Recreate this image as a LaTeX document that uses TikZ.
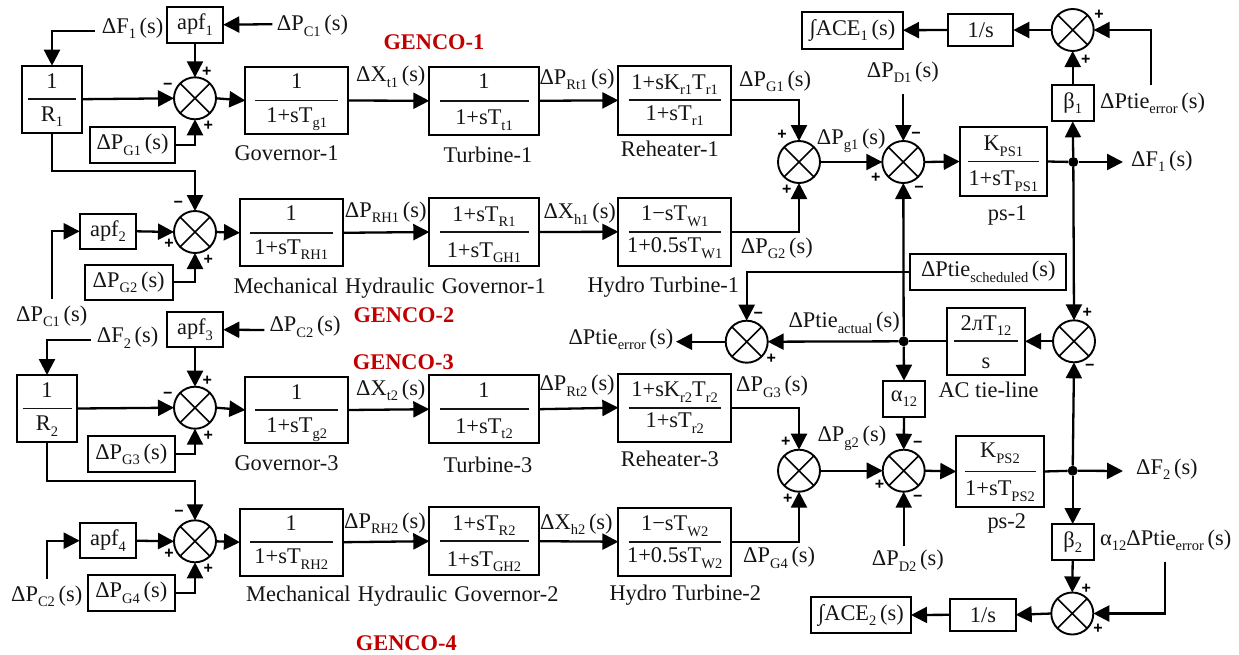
\documentclass[tikz,border=0pt]{standalone}
\usepackage{fontspec}
\setmainfont{Liberation Serif}
\newfontfamily\sgnfont{Liberation Sans}
\usetikzlibrary{arrows.meta}
\definecolor{gencored}{HTML}{C00000}
\newcommand{\sub}[1]{\raisebox{-5.5pt}{\fontsize{14.5}{14.5}\selectfont #1}}
\newcommand{\fr}[5]{\makebox[0pt]{\smash{\raisebox{#4pt}{#2}}}\makebox[0pt]{\smash{\raisebox{-0.9pt}{\rule{#1pt}{1.8pt}}}}\makebox[0pt]{\smash{\raisebox{-#5pt}{#3}}}}
\tikzset{
  every node/.style={font=\fontsize{22.4}{24}\selectfont,text=black!92},
  box/.style 2 args={draw=black,line width=1.9pt,rectangle,inner sep=0pt,outer sep=0pt,minimum width=#1pt,minimum height=#2pt},
  sumj/.style={draw=black,line width=1.9pt,circle,inner sep=0pt,outer sep=0pt,minimum size=42pt,
    path picture={\draw[line width=1.6pt] (path picture bounding box.north west)--(path picture bounding box.south east)
      (path picture bounding box.north east)--(path picture bounding box.south west);}},
  lab/.style={inner sep=0pt,anchor=base west},
  genco/.style={inner sep=0pt,anchor=base west,font=\fontsize{22.4}{24}\selectfont\bfseries,text=gencored},
  sgn/.style={inner sep=0pt,font=\fontsize{16}{16}\sgnfont\bfseries,text=black},
  dot/.style={circle,fill=black,inner sep=0pt,minimum size=10pt},
  wire/.style={draw=black,line width=2.3pt},
  arr/.style={wire,-{Triangle[length=16pt,width=16pt]}}
}
\begin{document}
\begin{tikzpicture}[x=1pt,y=-1pt]
\useasboundingbox (0,0) rectangle (1239,654);
% blocks
\node[box={60.6}{67}] (R1) at (52,99.2) {\fr{49}{1}{R\sub{1}}{10.7}{22}};
\node[box={56.6}{36}] (apf1) at (195,24.7) {apf\sub{1}};
\node[box={85}{36.6}] (PG1b) at (132.5,145) {ΔP\sub{G1}\,(s)};
\node[box={102.7}{67}] (G1) at (296.7,100.5) {\fr{83}{1}{1+sT\sub{g1}}{12}{21.5}};
\node[box={56.6}{35.3}] (apf2) at (108,231.3) {apf\sub{2}};
\node[box={88}{35.3}] (PG2b) at (128.7,282.3) {ΔP\sub{G2}\,(s)};
\node[box={102.7}{67}] (RH1) at (291.3,232.8) {\fr{83}{1}{1+sT\sub{RH1}}{12}{21.5}};
\node[box={109.4}{68.3}] (T1) at (484,100.8) {\fr{89}{1}{1+sT\sub{t1}}{12}{24}};
\node[box={112.7}{68.7}] (Re1) at (674.7,100.3) {\fr{92}{1+sK\sub{r1}T\sub{r1}}{1+sT\sub{r1}}{11}{20}};
\node[box={109.4}{68.6}] (GH1) at (484,232) {\fr{89}{1+sT\sub{R1}}{1+sT\sub{GH1}}{11}{25}};
\node[box={112.7}{68.3}] (W1) at (674.7,231.8) {\fr{92}{1−sT\sub{W1}}{1+0.5sT\sub{W1}}{11}{21}};
\node[box={101}{37}] (ACE1) at (852.5,30.2) {∫ACE\sub{1}\,(s)};
\node[box={65}{32}] (is1) at (980.8,30) {1/s};
\node[box={42}{36.3}] (b1) at (1072.7,103.2) {β\sub{1}};
\node[box={87.3}{69}] (K1) at (1003.3,161.5) {\fr{71}{K\sub{PS1}}{1+sT\sub{PS1}}{10.7}{24.3}};
\node[box={156}{36}] (sched) at (988.3,272) {ΔPtie\sub{scheduled}\,(s)};
\node[box={78}{66.7}] (Tie) at (986,341.3) {\fr{64}{2лT\sub{12}}{s}{11}{27}};
\node[box={42}{36}] (a12) at (904,398.7) {α\sub{12}};
\node[box={87.4}{71}] (K2) at (1000,471.5) {\fr{71}{K\sub{PS2}}{1+sT\sub{PS2}}{14}{24}};
\node[box={42}{36}] (b2) at (1072.7,542) {β\sub{2}};
\node[box={65.4}{32.3}] (is2) at (983,614.8) {1/s};
\node[box={100}{35.4}] (ACE2) at (861,615) {∫ACE\sub{2}\,(s)};
\node[box={56.6}{35.3}] (apf3) at (195,329.7) {apf\sub{3}};
\node[box={60.6}{67}] (R2) at (47,408.5) {\fr{49}{1}{R\sub{2}}{10.7}{22}};
\node[box={87.3}{35.7}] (PG3b) at (131.3,454.2) {ΔP\sub{G3}\,(s)};
\node[box={102.7}{66.6}] (G3) at (296.7,410) {\fr{83}{1}{1+sT\sub{g2}}{11}{22.7}};
\node[box={56.6}{35.3}] (apf4) at (108,540.7) {apf\sub{4}};
\node[box={87.3}{35.4}] (PG4b) at (131.3,593) {ΔP\sub{G4}\,(s)};
\node[box={102.7}{67}] (RH2) at (291.3,542.2) {\fr{83}{1}{1+sT\sub{RH2}}{12}{21.5}};
\node[box={109.4}{68.3}] (T3) at (484,409.2) {\fr{89}{1}{1+sT\sub{t2}}{12}{24}};
\node[box={112.7}{68}] (Re3) at (674.7,407.7) {\fr{92}{1+sK\sub{r2}T\sub{r2}}{1+sT\sub{r2}}{11}{20}};
\node[box={109.4}{68.3}] (GH2) at (484,541.2) {\fr{89}{1+sT\sub{R2}}{1+sT\sub{GH2}}{11}{25}};
\node[box={112.7}{68}] (W2) at (674.7,541.7) {\fr{92}{1−sT\sub{W2}}{1+0.5sT\sub{W2}}{11}{21}};
% summing junctions
\node[sumj] (s1) at (195,98.3) {};
\node[sumj] (s2) at (195,232) {};
\node[sumj] (s3) at (195,407.7) {};
\node[sumj] (s4) at (195,541.3) {};
\node[sumj] (sg1) at (799,162) {};
\node[sumj] (st1) at (903.3,162) {};
\node[sumj] (sa1) at (1072.7,30) {};
\node[sumj] (se) at (746.7,341.7) {};
\node[sumj] (stie) at (1074,341.3) {};
\node[sumj] (sg2) at (799,470.7) {};
\node[sumj] (st2) at (903.7,470.7) {};
\node[sumj] (sa2) at (1072.3,613.5) {};
% junction dots
\node[dot] (j1) at (1073.3,162) {};
\node[dot] (j2) at (1072.7,470.7) {};
\node[dot] (jt) at (903.7,341.3) {};
% free ends
\coordinate (cF1) at (95,30.7);
\coordinate (cPC1) at (272.3,24.2);
\coordinate (cPC1b) at (52,299.3);
\coordinate (cF2) at (90.7,340);
\coordinate (cPC2) at (264.3,330);
\coordinate (cPC2b) at (47,578.7);
\coordinate (cPD1) at (903.3,94);
\coordinate (cPD2) at (903.7,545.7);
\coordinate (cF1out) at (1123,162);
\coordinate (cF2out) at (1123,471);
\coordinate (cerr) at (676,341.7);
\coordinate (cE1) at (1151.3,85);
\coordinate (cE2) at (1165.3,561.7);
\coordinate (cR1d) at (52,171.3);
\coordinate (cR2d) at (47,481);
% connectors: left side
\draw[arr] (cF1) -| (R1.north);
\draw[arr] (cPC1) -- (apf1.east);
\draw[arr] (apf1.south) -- (s1.north);
\draw[arr] (R1.east) -- (s1.west);
\draw[arr] (s1.east) -- (G1.west);
\draw[arr] (PG1b.east) -| (s1.south);
\draw[arr] (G1.east) -- (T1.west);
\draw[arr] (T1.east) -- (Re1.west);
\draw[arr] (Re1.east) -| (sg1.north);
\draw[arr] (R1.south) -- (cR1d) -| (s2.north);
\draw[arr] (cPC1b) |- (apf2.west);
\draw[arr] (apf2.east) -- (s2.west);
\draw[arr] (s2.east) -- (RH1.west);
\draw[arr] (PG2b.east) -| (s2.south);
\draw[arr] (RH1.east) -- (GH1.west);
\draw[arr] (GH1.east) -- (W1.west);
\draw[arr] (W1.east) -| (sg1.south);
\draw[arr] (cF2) -| (R2.north);
\draw[arr] (cPC2) -- (apf3.east);
\draw[arr] (apf3.south) -- (s3.north);
\draw[arr] (R2.east) -- (s3.west);
\draw[arr] (s3.east) -- (G3.west);
\draw[arr] (PG3b.east) -| (s3.south);
\draw[arr] (G3.east) -- (T3.west);
\draw[arr] (T3.east) -- (Re3.west);
\draw[arr] (Re3.east) -| (sg2.north);
\draw[arr] (R2.south) -- (cR2d) -| (s4.north);
\draw[arr] (cPC2b) |- (apf4.west);
\draw[arr] (apf4.east) -- (s4.west);
\draw[arr] (s4.east) -- (RH2.west);
\draw[arr] (PG4b.east) -| (s4.south);
\draw[arr] (RH2.east) -- (GH2.west);
\draw[arr] (GH2.east) -- (W2.west);
\draw[arr] (W2.east) -| (sg2.south);
% connectors: right side
\draw[arr] (sg1.east) -- (st1.west);
\draw[arr] (st1.east) -- (K1.west);
\draw[wire] (K1.east) -- (j1);
\draw[arr] (j1) -- (cF1out);
\draw[arr] (cPD1) -- (st1.north);
\draw[arr] (jt) -- (st1.south);
\draw[arr] (j1) -- (b1.south);
\draw[arr] (b1.north) -- (sa1.south);
\draw[arr] (sa1.west) -- (is1.east);
\draw[arr] (is1.west) -- (ACE1.east);
\draw[arr] (cE1) |- (sa1.east);
\draw[arr] (j1) -- (stie.north);
\draw[arr] (stie.west) -- (Tie.east);
\draw[wire] (Tie.west) -- (jt);
\draw[arr] (jt) -- (se.east);
\draw[arr] (se.west) -- (cerr);
\draw[arr] (sched.west) -| (se.north);
\draw[arr] (jt) -- (a12.north);
\draw[arr] (a12.south) -- (st2.north);
\draw[arr] (cPD2) -- (st2.south);
\draw[arr] (sg2.east) -- (st2.west);
\draw[arr] (st2.east) -- (K2.west);
\draw[wire] (K2.east) -- (j2);
\draw[arr] (j2) -- (cF2out);
\draw[arr] (j2) -- (stie.south);
\draw[arr] (j2) -- (b2.north);
\draw[arr] (b2.south) -- (sa2.north);
\draw[arr] (sa2.west) -- (is2.east);
\draw[arr] (is2.west) -- (ACE2.east);
\draw[arr] (cE2) |- (sa2.east);
% labels
\node[lab] (lF1) at (101.7,33.3) {ΔF\sub{1}\,(s)};
\node[lab] (lPC1) at (276.7,30.7) {ΔP\sub{C1}\,(s)};
\node[lab] (lXt1) at (356,81.7) {ΔX\sub{t1}\,(s)};
\node[lab] (lGov1) at (234.3,160.7) {Governor-1};
\node[lab] (lPC1b) at (16,321) {ΔP\sub{C1}\,(s)};
\node[lab] (lPC2) at (269.3,331.7) {ΔP\sub{C2}\,(s)};
\node[lab] (lF2) at (96.7,342.7) {ΔF\sub{2}\,(s)};
\node[lab] (lMH1) at (233.3,293.7) {Mechanical\hspace{1.5pt} Hydraulic\hspace{1.5pt} Governor-1};
\node[lab] (lRH1) at (344.7,217) {ΔP\sub{RH1}\,(s)};
\node[lab] (lTur1) at (443.3,162.7) {Turbine-1};
\node[lab] (lRt1) at (539.3,84) {ΔP\sub{Rt1}\,(s)};
\node[lab] (lRe1) at (620.7,156.7) {Reheater-1};
\node[lab] (lXh1) at (543.3,218.7) {ΔX\sub{h1}\,(s)};
\node[lab] (lG1) at (739,86) {ΔP\sub{G1}\,(s)};
\node[lab] (lG2) at (740.7,253.3) {ΔP\sub{G2}\,(s)};
\node[lab] (lHT1) at (587.3,292) {Hydro Turbine-1};
\node[lab] (lD1) at (866.7,77.3) {ΔP\sub{D1}\,(s)};
\node[lab] (lg1) at (816.7,144) {ΔP\sub{g1}\,(s)};
\node[lab] (lerr1) at (1100,108.3) {ΔPtie\sub{error}\,(s)};
\node[lab] (lF1r) at (1131,166) {ΔF\sub{1}\,(s)};
\node[lab] (lps1) at (987.7,220) {ps-1};
\node[lab] (lact) at (788.3,327.7) {ΔPtie\sub{actual}\,(s)};
\node[lab] (lerrl) at (568.3,344) {ΔPtie\sub{error}\,(s)};
\node[lab] (lRt2) at (539.3,390.7) {ΔP\sub{Rt2}\,(s)};
\node[lab] (lG3) at (736,391.7) {ΔP\sub{G3}\,(s)};
\node[lab] (lg2) at (817.3,441.7) {ΔP\sub{g2}\,(s)};
\node[lab] (lRe3) at (620.7,466.7) {Reheater-3};
\node[lab] (lTur3) at (443.3,472.3) {Turbine-3};
\node[lab] (lXt2) at (356,395) {ΔX\sub{t2}\,(s)};
\node[lab] (lGov3) at (234.3,470) {Governor-3};
\node[lab] (lRH2) at (344,528.3) {ΔP\sub{RH2}\,(s)};
\node[lab] (lXh2) at (540,529) {ΔX\sub{h2}\,(s)};
\node[lab] (lMH2) at (246,601.7) {Mechanical\hspace{1.5pt} Hydraulic\hspace{1.5pt} Governor-2};
\node[lab] (lHT2) at (609.3,600) {Hydro Turbine-2};
\node[lab] (lG4) at (743,562.7) {ΔP\sub{G4}\,(s)};
\node[lab] (lD2) at (871.7,565.7) {ΔP\sub{D2}\,(s)};
\node[lab] (lAC) at (938.3,397.7) {AC tie-line};
\node[lab] (lF2r) at (1136,474.3) {ΔF\sub{2}\,(s)};
\node[lab] (lps2) at (987.3,528.3) {ps-2};
\node[lab] (lerr2) at (1100,545) {α\sub{12}ΔPtie\sub{error}\,(s)};
\node[lab] (lPC2b) at (11,601) {ΔP\sub{C2}\,(s)};
\node[genco] (g1t) at (383.3,49.3) {GENCO-1};
\node[genco] (g2t) at (353.3,322.7) {GENCO-2};
\node[genco] (g3t) at (352.7,369) {GENCO-3};
\node[genco] (g4t) at (355.7,650.8) {GENCO-4};
% signs
\node[sgn] (p1) at (206.7,71.7) {+};
\node[sgn] (p2) at (167.7,86) {−};
\node[sgn] (p3) at (208.3,126.3) {+};
\node[sgn] (p4) at (178.3,204.3) {−};
\node[sgn] (p5) at (169,244) {+};
\node[sgn] (p6) at (208.3,259.7) {+};
\node[sgn] (p7) at (207.3,381) {+};
\node[sgn] (p8) at (167.7,395.3) {−};
\node[sgn] (p9) at (208.3,435.7) {+};
\node[sgn] (p10) at (179,513.7) {−};
\node[sgn] (p11) at (169,553.3) {+};
\node[sgn] (p12) at (208.3,569) {+};
\node[sgn] (p13) at (782,135) {+};
\node[sgn] (p14) at (786.7,190) {+};
\node[sgn] (p15) at (916,135) {−};
\node[sgn] (p16) at (875.7,177.7) {+};
\node[sgn] (p17) at (919,189.7) {−};
\node[sgn] (p18) at (1099,14.7) {+};
\node[sgn] (p19) at (1085.7,60.3) {+};
\node[sgn] (p20) at (1087.3,312.7) {+};
\node[sgn] (p21) at (1089.7,367.3) {−};
\node[sgn] (p22) at (758.3,315.3) {−};
\node[sgn] (p23) at (771.3,358.7) {+};
\node[sgn] (p24) at (785.7,442) {+};
\node[sgn] (p25) at (787.7,499) {+};
\node[sgn] (p26) at (917.7,444.7) {−};
\node[sgn] (p27) at (879.6,485) {+};
\node[sgn] (p28) at (917.7,498) {−};
\node[sgn] (p29) at (1086.3,588.7) {+};
\node[sgn] (p30) at (1098,628.3) {+};
\end{tikzpicture}
\end{document}
